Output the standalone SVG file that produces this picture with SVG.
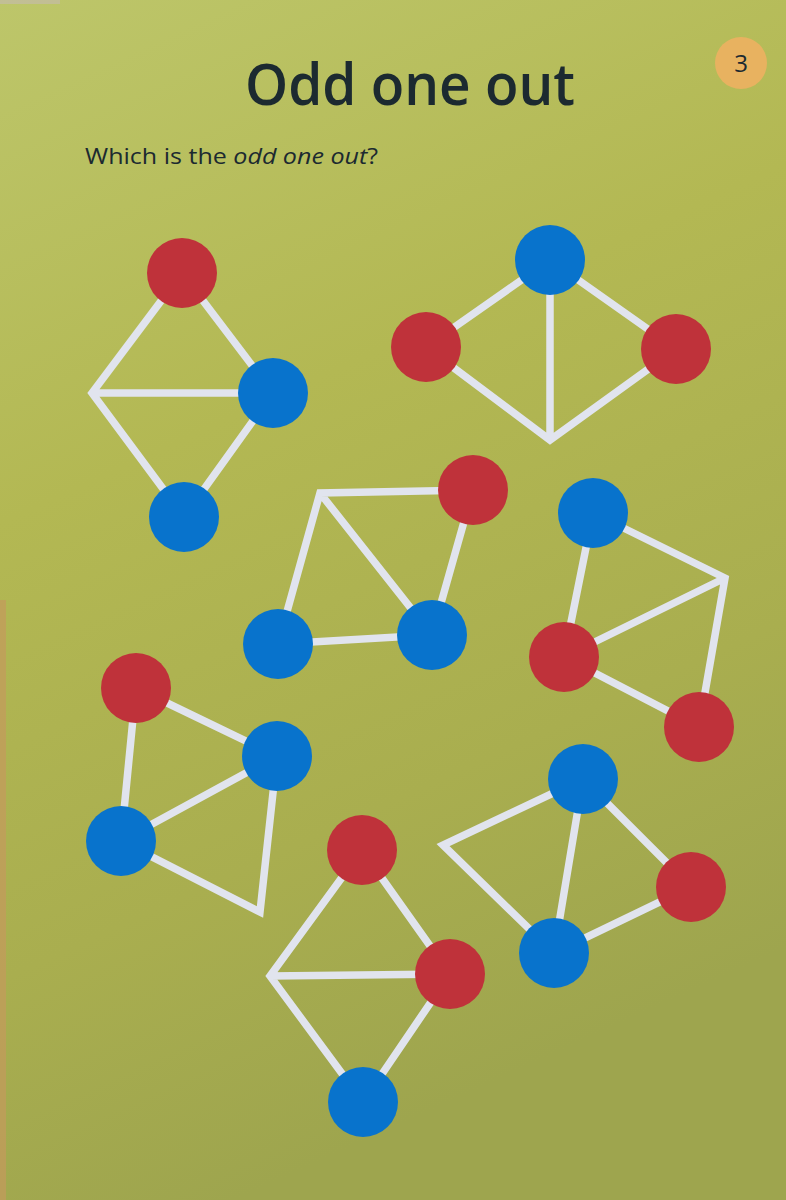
<svg xmlns="http://www.w3.org/2000/svg" width="786" height="1200" viewBox="0 0 786 1200">
<defs>
<linearGradient id="bg" x1="0" y1="0" x2="0.3" y2="1">
<stop offset="0" stop-color="#bdc66a"/>
<stop offset="0.4" stop-color="#b3b853"/>
<stop offset="0.75" stop-color="#a9ae4f"/>
<stop offset="1" stop-color="#9ea54e"/>
</linearGradient>
<style>
.e{fill:none;stroke:#e1e4ee;stroke-width:7.5;stroke-linejoin:miter;stroke-linecap:butt}
.r{fill:#bf323a}
.b{fill:#0873cc}
.t{font-family:"Open Sans","Liberation Sans",sans-serif;fill:#1c2a30}
</style>
</defs>
<rect x="0" y="0" width="786" height="1200" fill="url(#bg)"/>
<rect x="0" y="0" width="60" height="4" fill="#c8b8c0" opacity="0.5"/>
<rect x="0" y="600" width="6" height="600" fill="#c49a5c" opacity="0.7"/>
<text class="t" x="410" y="105" text-anchor="middle" font-size="58" font-weight="600" textLength="330" lengthAdjust="spacingAndGlyphs">Odd one out</text>
<text class="t" x="85" y="164" font-size="21" textLength="293" lengthAdjust="spacingAndGlyphs">Which is the <tspan font-style="italic">odd one out</tspan>?</text>
<g id="page-number">
<circle cx="741" cy="63" r="26" fill="#e8b260"/>
<text class="t" x="741" y="72" text-anchor="middle" font-size="24">3</text>
</g>
<g id="connectors">
<path class="e" d="M182 273 L92 393 L184 517 M92 393 L273 393 M182 273 L273 393 L184 517"/>
<path class="e" d="M426 347 L550 260 L676 349 L550 440 Z M550 260 L550 440"/>
<path class="e" d="M278 644 L320 493 L473 490 L432 635 Z M320 493 L432 635"/>
<path class="e" d="M593 513 L725 578 L699 727 L564 657 Z M564 657 L725 578"/>
<path class="e" d="M136 688 L277 756 L260 912 L121 841 Z M121 841 L277 756"/>
<path class="e" d="M362 850 L270 976 L363 1102 M270 976 L450 974 M362 850 L450 974 L363 1102"/>
<path class="e" d="M583 779 L443 845 L554 953 L691 887 Z M583 779 L554 953"/>
</g>
<g id="graph1"><circle class="r" cx="182" cy="273" r="35"/><circle class="b" cx="273" cy="393" r="35"/><circle class="b" cx="184" cy="517" r="35"/></g>
<g id="graph2"><circle class="b" cx="550" cy="260" r="35"/><circle class="r" cx="426" cy="347" r="35"/><circle class="r" cx="676" cy="349" r="35"/></g>
<g id="graph3"><circle class="r" cx="473" cy="490" r="35"/><circle class="b" cx="278" cy="644" r="35"/><circle class="b" cx="432" cy="635" r="35"/></g>
<g id="graph4"><circle class="b" cx="593" cy="513" r="35"/><circle class="r" cx="564" cy="657" r="35"/><circle class="r" cx="699" cy="727" r="35"/></g>
<g id="graph5"><circle class="r" cx="136" cy="688" r="35"/><circle class="b" cx="277" cy="756" r="35"/><circle class="b" cx="121" cy="841" r="35"/></g>
<g id="graph6"><circle class="r" cx="362" cy="850" r="35"/><circle class="r" cx="450" cy="974" r="35"/><circle class="b" cx="363" cy="1102" r="35"/></g>
<g id="graph7"><circle class="b" cx="583" cy="779" r="35"/><circle class="r" cx="691" cy="887" r="35"/><circle class="b" cx="554" cy="953" r="35"/></g>
</svg>
